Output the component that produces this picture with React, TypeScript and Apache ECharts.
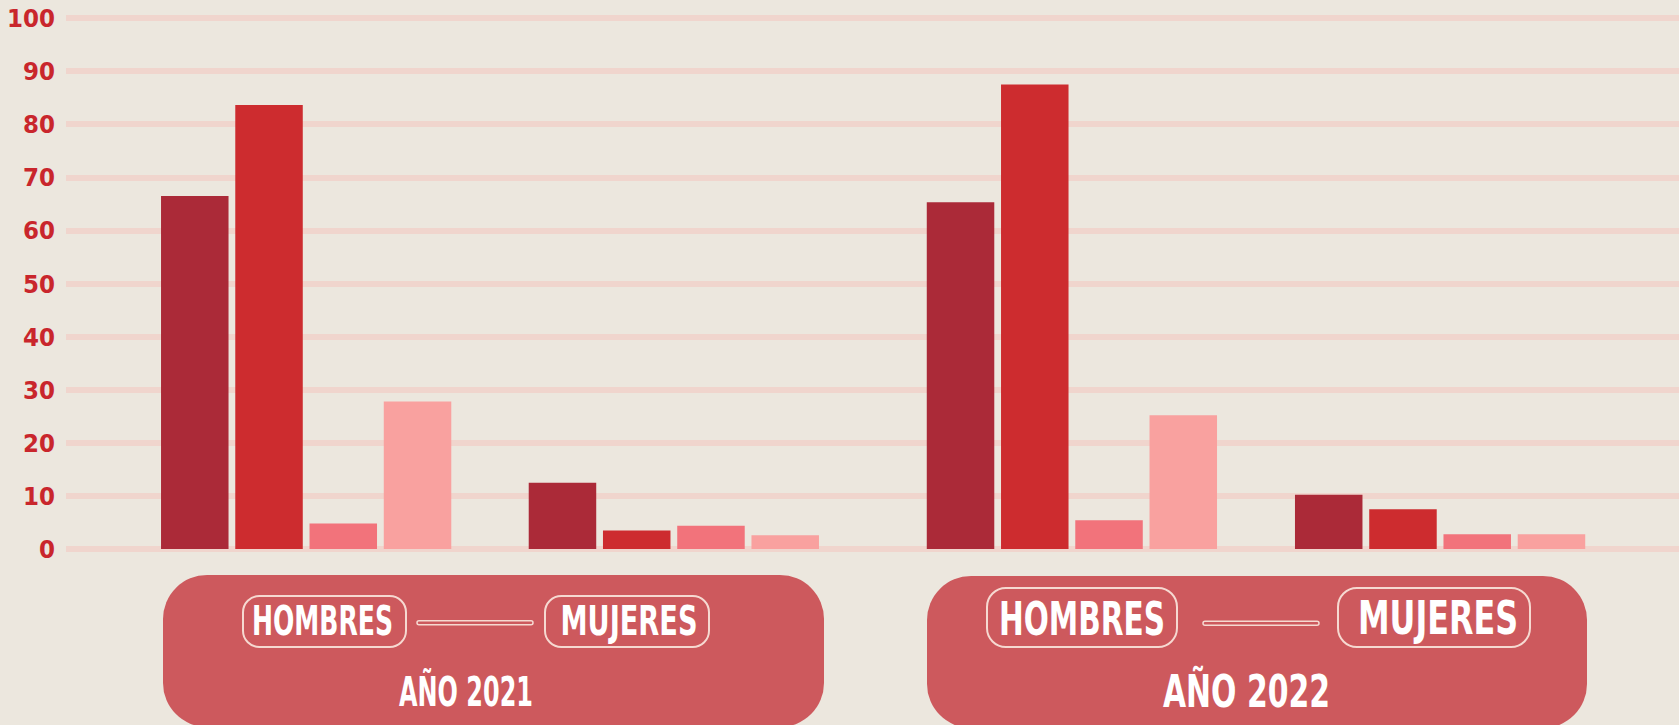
import React, { useEffect, useRef } from "react";
import * as echarts from "echarts";

// ---- data ----
const groups = ["HOMBRES", "MUJERES"];
const years = ["AÑO 2021", "AÑO 2022"];
const yTicks = [0, 10, 20, 30, 40, 50, 60, 70, 80, 90, 100];
const serieNames = ["Serie 1", "Serie 2", "Serie 3", "Serie 4"];
const s1_2021 = [66.5, 12.5];
const s2_2021 = [83.6, 3.5];
const s3_2021 = [4.8, 4.4];
const s4_2021 = [27.8, 2.6];
const s1_2022 = [65.3, 10.2];
const s2_2022 = [87.5, 7.5];
const s3_2022 = [5.4, 2.8];
const s4_2022 = [25.2, 2.8];

const COLORS = ["#ab2a38", "#cd2c2f", "#f2737b", "#f9a19f"];
const BG = "#ece7de";
const PANEL = "#cd595d";
const OUTLINE = "#f6d9d1";
const AXIS_RED = "#c9262c";

function detectFont(): string {
  const c = document.createElement("canvas").getContext("2d") as CanvasRenderingContext2D;
  const cands = ["Liberation Sans Narrow", "DejaVu Sans Condensed", "Roboto Condensed"];
  for (const f of cands) {
    c.font = "bold 40px monospace";
    const w0 = c.measureText("HOMBRES 100").width;
    c.font = `bold 40px "${f}", monospace`;
    const w1 = c.measureText("HOMBRES 100").width;
    if (Math.abs(w0 - w1) > 0.5) return f;
  }
  return "DejaVu Sans";
}

export default function App() {
  const ref = useRef<HTMLDivElement>(null);
  useEffect(() => {
    if (!ref.current) return;
    const font = detectFont();
    const ctx = document.createElement("canvas").getContext("2d") as CanvasRenderingContext2D;
    const measure = (t: string, size: number) => {
      ctx.font = `bold ${size}px "${font}", sans-serif`;
      return ctx.measureText(t).width;
    };
    const CAP = 0.72;

    const label = (text: string, cx: number, cy: number, cap: number, width: number) => {
      const fs = cap / CAP;
      const w = measure(text, fs);
      return {
        type: "text",
        x: cx,
        y: cy,
        scaleX: width / w,
        z: 10,
        style: {
          text,
          fill: "#ffffff",
          fontSize: fs,
          fontWeight: "bold",
          fontFamily: `"${font}", sans-serif`,
          align: "center",
          verticalAlign: "middle",
        },
      };
    };
    const pill = (x: number, y: number, w: number, h: number) => ({
      type: "rect",
      z: 9,
      shape: { x, y, width: w, height: h, r: h * 0.32 },
      style: { fill: "none", stroke: OUTLINE, lineWidth: 2 },
    });
    const connector = (x: number, y: number, w: number) => ({
      type: "rect",
      z: 9,
      shape: { x, y: y - 2, width: w, height: 4, r: 2 },
      style: { fill: PANEL, stroke: OUTLINE, lineWidth: 1.5 },
    });
    const panel = (x: number, y: number, w: number) => ({
      type: "rect",
      z: 8,
      shape: { x, y, width: w, height: 152, r: 44 },
      style: { fill: PANEL },
    });

    // axis label size: keep "100" near its reference width
    let axisFs = 30.5;
    const w100 = measure("100", axisFs);
    if (w100 > 48) axisFs = axisFs * (48 / w100);

    const chart = echarts.init(ref.current, null, { renderer: "svg" });
    const data2021 = [s1_2021, s2_2021, s3_2021, s4_2021];
    const data2022 = [s1_2022, s2_2022, s3_2022, s4_2022];
    const series: any[] = [];
    [data2021, data2022].forEach((set, yi) => {
      set.forEach((d, k) => {
        series.push({
          name: serieNames[k],
          type: "bar",
          xAxisIndex: yi + 1,
          yAxisIndex: yi + 1,
          data: d,
          barWidth: 67.5,
          barGap: "10%",
          itemStyle: { color: COLORS[k] },
        });
      });
    });

    chart.setOption({
      animation: false,
      backgroundColor: BG,
      grid: [
        { left: 66, right: 0, top: 18, height: 531 },
        { left: 122.3, width: 735.4, top: 18, height: 531 },
        { left: 887.8, width: 736.4, top: 18, height: 531 },
      ],
      xAxis: [
        { type: "category", gridIndex: 0, data: ["x"], show: false },
        { type: "category", gridIndex: 1, data: groups, show: false },
        { type: "category", gridIndex: 2, data: groups, show: false },
      ],
      yAxis: [
        {
          type: "value",
          gridIndex: 0,
          min: yTicks[0],
          max: yTicks[yTicks.length - 1],
          interval: 10,
          axisLine: { show: false },
          axisTick: { show: false },
          splitLine: { show: true, lineStyle: { color: "#f0d5cd", width: 6 } },
          axisLabel: {
            margin: 11,
            color: AXIS_RED,
            fontSize: axisFs,
            fontWeight: "bold",
            fontFamily: `"${font}", sans-serif`,
          },
        },
        { type: "value", gridIndex: 1, min: 0, max: 100, show: false, splitLine: { show: false } },
        { type: "value", gridIndex: 2, min: 0, max: 100, show: false, splitLine: { show: false } },
      ],
      series,
      graphic: [
        panel(163, 575, 661),
        pill(243, 596, 163, 51),
        pill(545, 596, 164, 51),
        connector(417, 622.7, 116),
        label(groups[0], 322.5, 620.5, 30, 141),
        label(groups[1], 629, 620.5, 30, 137),
        label(years[0], 466, 692, 30, 134),

        panel(927, 576, 660),
        pill(987, 588, 190, 59),
        pill(1338, 588, 192, 59),
        connector(1203, 623.3, 116),
        label(groups[0], 1082, 618.5, 33, 166),
        label(groups[1], 1438, 618.5, 33, 160),
        label(years[1], 1246.5, 692, 32, 167),
      ],
    });
    return () => chart.dispose();
  }, []);
  return (
    <div
      ref={ref}
      style={{ position: "fixed", left: 0, top: 0, width: 1679, height: 725, background: BG }}
    />
  );
}
